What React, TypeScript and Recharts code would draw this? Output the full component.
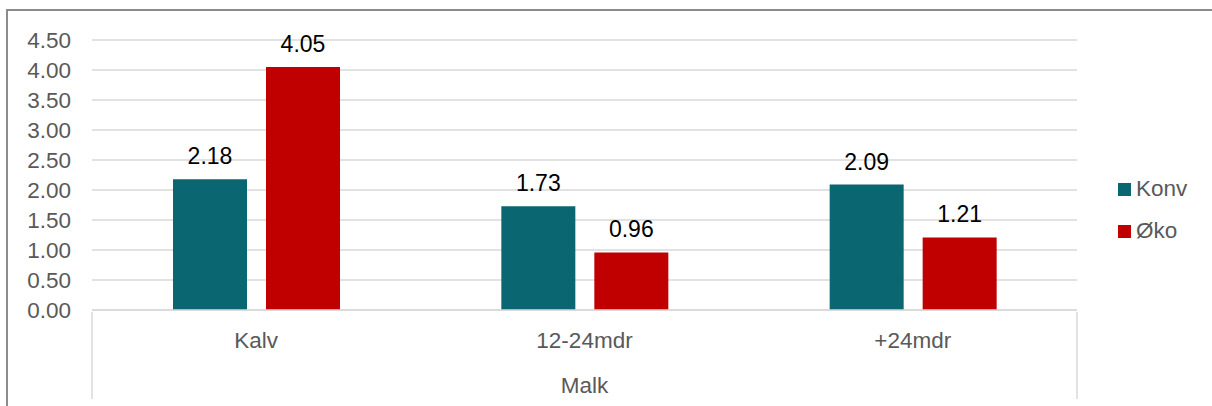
import { Bar, BarChart, CartesianGrid, LabelList, Legend, XAxis, YAxis } from "recharts";

const categories = ["Kalv", "12-24mdr", "+24mdr"];
const groupLabel = "Malk";
const konv = [2.18, 1.73, 2.09];
const oko = [4.05, 0.96, 1.21];
const yTicks = [0, 0.5, 1, 1.5, 2, 2.5, 3, 3.5, 4, 4.5];

const seriesColors = { konv: "#0A6670", oko: "#C00000" };
const FONT = "'Liberation Sans', Arial, sans-serif";
const AXIS_TEXT = "#595959";
const GRID = "#D9D9D9";
const FS = 22.5;

const data = categories.map((cat, i) => ({ cat, konv: konv[i], oko: oko[i] }));

type TickProps = {
  x?: number;
  y?: number;
  index?: number;
  payload?: { value: string; offset?: number };
};

// Kategori-akse i to nivå: kategori + "Malk" under, med ramme på sidene
function CategoryTick(props: TickProps) {
  const { x = 0, y = 0, index = 0, payload } = props;
  const half = payload?.offset ?? 985 / categories.length / 2;
  const last = categories.length - 1;
  return (
    <g>
      <text x={x} y={y} dy={36} textAnchor="middle" fontSize={FS} fill={AXIS_TEXT} fontFamily={FONT}>
        {payload?.value}
      </text>
      {index === 0 && <line x1={x - half} x2={x - half} y1={y} y2={y + 87} stroke={GRID} strokeWidth={1.5} />}
      {index === last && <line x1={x + half} x2={x + half} y1={y} y2={y + 87} stroke={GRID} strokeWidth={1.5} />}
      {index === Math.floor(last / 2) && (
        <text x={x} y={y} dy={81} textAnchor="middle" fontSize={FS} fill={AXIS_TEXT} fontFamily={FONT}>
          {groupLabel}
        </text>
      )}
    </g>
  );
}

type LegendItem = { value?: string; color?: string };

function LegendContent({ payload }: { payload?: LegendItem[] }) {
  return (
    <div style={{ fontFamily: FONT }}>
      {(payload ?? []).map((p) => (
        <div key={p.value} style={{ display: "flex", alignItems: "center", height: 42 }}>
          <span style={{ width: 13, height: 13, background: p.color, marginRight: 5 }} />
          <span style={{ fontSize: FS, color: AXIS_TEXT }}>{p.value}</span>
        </div>
      ))}
    </div>
  );
}

export default function App() {
  return (
    <div style={{ position: "absolute", left: 0, top: 0, width: 1212, height: 406, background: "#fff", overflow: "hidden" }}>
      <div
        style={{
          position: "absolute",
          left: 6,
          top: 9,
          width: 1220,
          height: 420,
          border: "2px solid #8C8C8C",
          boxSizing: "border-box",
        }}
      />
      <div style={{ position: "absolute", left: 0, top: 0 }}>
        <BarChart
          width={1212}
          height={406}
          data={data}
          margin={{ top: 40, right: 45, bottom: 0, left: 0 }}
          barSize={74}
          barGap={19}
        >
          <CartesianGrid vertical={false} stroke={GRID} strokeWidth={1.5} />
          <XAxis
            dataKey="cat"
            height={96}
            tickLine={false}
            tickSize={0}
            axisLine={{ stroke: GRID, strokeWidth: 1.5 }}
            interval={0}
            tick={(p: object) => <CategoryTick {...(p as TickProps)} />}
          />
          <YAxis
            width={92}
            domain={[0, 4.5]}
            ticks={yTicks}
            axisLine={false}
            tickLine={false}
            tickMargin={15}
            tick={{ fontSize: FS, fill: AXIS_TEXT, fontFamily: FONT }}
            tickFormatter={(v) => Number(v).toFixed(2)}
            interval={0}
          />
          <Legend
            layout="horizontal"
            align="right"
            verticalAlign="middle"
            wrapperStyle={{ left: 1118, top: 168, right: "auto", bottom: "auto", width: 90 }}
            content={(p: object) => <LegendContent {...(p as { payload?: LegendItem[] })} />}
          />
          <Bar dataKey="konv" name="Konv" fill={seriesColors.konv} isAnimationActive={false}>
            <LabelList
              dataKey="konv"
              position="top"
              offset={15}
              formatter={(v: unknown) => Number(v).toFixed(2)}
              style={{ fontSize: 23, fill: "#000", fontFamily: FONT }}
            />
          </Bar>
          <Bar dataKey="oko" name="Øko" fill={seriesColors.oko} isAnimationActive={false}>
            <LabelList
              dataKey="oko"
              position="top"
              offset={15}
              formatter={(v: unknown) => Number(v).toFixed(2)}
              style={{ fontSize: 23, fill: "#000", fontFamily: FONT }}
            />
          </Bar>
        </BarChart>
      </div>
    </div>
  );
}
